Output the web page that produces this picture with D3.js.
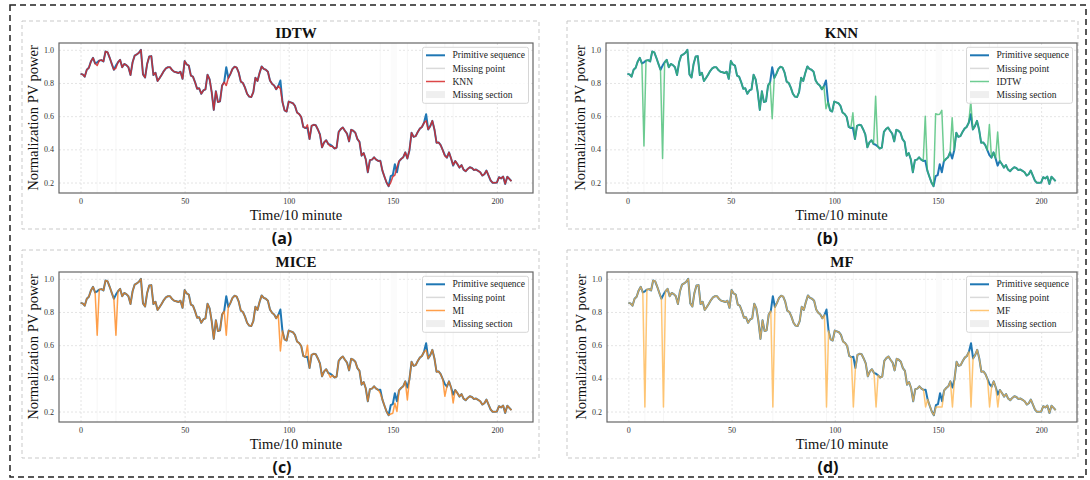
<!DOCTYPE html>
<html>
<head>
<meta charset="utf-8">
<script src="https://cdn.jsdelivr.net/npm/d3@7"></script>
<style>
  body { margin: 0; background: #fff; }
  svg { display: block; }
</style>
</head>
<body>
<svg id="chart" width="1090" height="480"></svg>
<script>
// Primitive (ground truth) PV sequence, one value per 10-minute step (0..207)
var primitive = [
  0.855, 0.852, 0.838, 0.880, 0.892, 0.930, 0.952, 0.918, 0.925, 0.935,
  0.938, 0.930, 0.990, 0.985, 0.952, 0.915, 0.880, 0.905, 0.925, 0.940,
  0.895, 0.915, 0.908, 0.895, 0.848, 0.925, 0.965, 0.972, 0.982, 1.000,
  0.852, 0.833, 0.915, 0.960, 0.962, 0.848, 0.862, 0.812, 0.830, 0.850,
  0.872, 0.888, 0.895, 0.895, 0.878, 0.868, 0.865, 0.860, 0.868, 0.825,
  0.932, 0.912, 0.905, 0.845, 0.838, 0.805, 0.765, 0.768, 0.735, 0.755,
  0.762, 0.850, 0.822, 0.745, 0.638, 0.750, 0.685, 0.690, 0.785, 0.805,
  0.895, 0.830, 0.855, 0.885, 0.898, 0.893, 0.862, 0.808, 0.800, 0.772,
  0.735, 0.718, 0.715, 0.745, 0.832, 0.812, 0.860, 0.900, 0.885, 0.880,
  0.868, 0.815, 0.795, 0.785, 0.762, 0.782, 0.815, 0.685, 0.635, 0.628,
  0.688, 0.683, 0.678, 0.662, 0.622, 0.613, 0.595, 0.535, 0.528, 0.530,
  0.462, 0.542, 0.548, 0.545, 0.520, 0.490, 0.412, 0.442, 0.455, 0.432,
  0.428, 0.418, 0.405, 0.410, 0.505, 0.522, 0.532, 0.512, 0.495, 0.448,
  0.518, 0.512, 0.500, 0.462, 0.445, 0.362, 0.378, 0.340, 0.262, 0.335,
  0.338, 0.352, 0.338, 0.330, 0.332, 0.272, 0.235, 0.200, 0.178, 0.238,
  0.245, 0.310, 0.262, 0.328, 0.342, 0.352, 0.382, 0.345, 0.395, 0.500,
  0.475, 0.480, 0.505, 0.525, 0.535, 0.560, 0.612, 0.520, 0.540, 0.572,
  0.520, 0.440, 0.442, 0.425, 0.395, 0.365, 0.350, 0.382, 0.345, 0.302,
  0.330, 0.312, 0.290, 0.305, 0.278, 0.268, 0.282, 0.292, 0.288, 0.275,
  0.278, 0.270, 0.262, 0.242, 0.250, 0.272, 0.242, 0.212, 0.198, 0.198,
  0.200, 0.232, 0.225, 0.236, 0.192, 0.235, 0.222, 0.208
];

// Positions that were removed and imputed
var missingPoints = [8, 17, 70, 96, 109, 120, 144, 157, 166, 175, 179];
var missingSection = [149, 152];
var missingIdx = [8, 17, 70, 96, 109, 120, 144, 149, 150, 151, 152, 157, 166, 175, 179];

// Imputed values at missingIdx for each method
var knnFill  = [0.905, 0.890, 0.785, 0.765, 0.548, 0.418, 0.330, 0.200, 0.235, 0.245, 0.290, 0.345, 0.572, 0.360, 0.305];
var idtwFill = [0.420, 0.345, 0.585, 0.645, 0.620, 0.720, 0.600, 0.615, 0.610, 0.612, 0.635, 0.590, 0.690, 0.550, 0.505];
var miFill   = [0.660, 0.660, 0.660, 0.565, 0.600, 0.405, 0.310, 0.185, 0.190, 0.250, 0.200, 0.270, 0.570, 0.292, 0.252];
var mfFill   = [0.228, 0.228, 0.228, 0.228, 0.228, 0.228, 0.228, 0.228, 0.228, 0.228, 0.228, 0.228, 0.228, 0.228, 0.228];

var xTicks = [0, 50, 100, 150, 200];
var yTicks = [0.2, 0.4, 0.6, 0.8, 1.0];
var legendLabels = ['Primitive sequence', 'Missing point', null, 'Missing section'];

// Panel layout (frame of each axes, dashed box and caption)
var panels = [
  { title: 'IDTW', method: 'KNN',  fill: knnFill,  color: '#d62728', alpha: 0.85, caption: '(a)', fx: 59,  fy: 43,  fw: 474, fh: 150, bx: 22,  by: 21,  bw: 517, bh: 208 },
  { title: 'KNN',  method: 'IDTW', fill: idtwFill, color: '#3dbb6e', alpha: 0.75, caption: '(b)', fx: 606, fy: 43,  fw: 471, fh: 150, bx: 567, by: 21,  bw: 511, bh: 208 },
  { title: 'MICE', method: 'MI',   fill: miFill,   color: '#ff7f0e', alpha: 0.75, caption: '(c)', fx: 59,  fy: 272, fw: 474, fh: 150, bx: 22,  by: 250, bw: 517, bh: 208 },
  { title: 'MF',   method: 'MF',   fill: mfFill,   color: '#ffb347', alpha: 0.75, caption: '(d)', fx: 607, fy: 272, fw: 470, fh: 150, bx: 567, by: 250, bw: 511, bh: 208 }
];

var SERIF = '"Liberation Serif", "Times New Roman", serif';
var BLUE = '#1f77b4';
var svg = d3.select('#chart');

// outer black dashed frame
svg.append('rect').attr('x', 10).attr('y', 5).attr('width', 1076).attr('height', 472)
  .attr('fill', 'none').attr('stroke', '#222').attr('stroke-width', 1.5).attr('stroke-dasharray', '6,4');

var n = primitive.length;
var allVals = primitive.concat(knnFill, idtwFill, miFill, mfFill);
var yMin = d3.min(allVals), yMax = d3.max(allVals);
var yPad = (yMax - yMin) * 0.05, xPad = (n - 1) * 0.05;

panels.forEach(function(p) {
  var g = svg.append('g');

  // light dashed panel box
  g.append('rect').attr('x', p.bx).attr('y', p.by).attr('width', p.bw).attr('height', p.bh)
    .attr('fill', 'none').attr('stroke', '#c9c9c9').attr('stroke-width', 1).attr('stroke-dasharray', '4,3');

  var x = d3.scaleLinear().domain([-xPad, n - 1 + xPad]).range([p.fx, p.fx + p.fw]);
  var y = d3.scaleLinear().domain([yMin - yPad, yMax + yPad]).range([p.fy + p.fh, p.fy]);

  // grid
  var gx = g.append('g').attr('transform', 'translate(0,' + (p.fy + p.fh) + ')')
    .call(d3.axisBottom(x).tickValues(xTicks).tickSize(-p.fh).tickFormat(''));
  var gy = g.append('g').attr('transform', 'translate(' + p.fx + ',0)')
    .call(d3.axisLeft(y).tickValues(yTicks).tickSize(-p.fw).tickFormat(''));
  [gx, gy].forEach(function(a) {
    a.select('.domain').remove();
    a.selectAll('line').attr('stroke', '#dedede').attr('stroke-width', 0.8).attr('stroke-dasharray', '2,2');
  });

  // missing section span and missing point markers (very faint)
  g.append('rect').attr('x', x(missingSection[0])).attr('y', p.fy)
    .attr('width', x(missingSection[1]) - x(missingSection[0])).attr('height', p.fh)
    .attr('fill', '#fbfbfb');
  g.selectAll('.mp').data(missingPoints).enter().append('line')
    .attr('x1', function(d) { return x(d); }).attr('x2', function(d) { return x(d); })
    .attr('y1', p.fy).attr('y2', p.fy + p.fh)
    .attr('stroke', '#f4f4f4').attr('stroke-width', 0.8);

  var line = d3.line().x(function(d, i) { return x(i); }).y(function(d) { return y(d); });
  var imputed = primitive.map(function(v, i) {
    var k = missingIdx.indexOf(i);
    return k >= 0 ? p.fill[k] : v;
  });

  g.append('path').datum(primitive).attr('d', line)
    .attr('fill', 'none').attr('stroke', BLUE).attr('stroke-width', 2).attr('stroke-linejoin', 'round');
  g.append('path').datum(imputed).attr('d', line)
    .attr('fill', 'none').attr('stroke', p.color).attr('stroke-opacity', p.alpha)
    .attr('stroke-width', 1.5).attr('stroke-linejoin', 'round');

  // frame
  g.append('rect').attr('x', p.fx).attr('y', p.fy).attr('width', p.fw).attr('height', p.fh)
    .attr('fill', 'none').attr('stroke', '#666').attr('stroke-width', 1.2);

  // tick labels
  var ax = g.append('g').attr('transform', 'translate(0,' + (p.fy + p.fh) + ')')
    .call(d3.axisBottom(x).tickValues(xTicks).tickSize(0).tickPadding(5).tickFormat(d3.format('d')));
  var ay = g.append('g').attr('transform', 'translate(' + p.fx + ',0)')
    .call(d3.axisLeft(y).tickValues(yTicks).tickSize(0).tickPadding(5).tickFormat(d3.format('.1f')));
  [ax, ay].forEach(function(a) {
    a.select('.domain').remove();
    a.selectAll('text').attr('font-family', SERIF).attr('font-size', '8px').attr('fill', '#333');
  });

  var cx = p.fx + p.fw / 2;
  g.append('text').attr('x', cx).attr('y', p.fy - 5).attr('text-anchor', 'middle')
    .attr('font-family', SERIF).attr('font-weight', 'bold').attr('font-size', '15px').attr('fill', '#111')
    .text(p.title);
  g.append('text').attr('x', cx).attr('y', p.fy + p.fh + 27).attr('text-anchor', 'middle')
    .attr('font-family', SERIF).attr('font-size', '14.5px').attr('fill', '#111')
    .text('Time/10 minute');
  g.append('text').attr('transform', 'translate(' + (p.fx - 21) + ',' + (p.fy + p.fh / 2) + ') rotate(-90)')
    .attr('text-anchor', 'middle')
    .attr('font-family', SERIF).attr('font-size', '14.5px').attr('fill', '#111')
    .text('Normalization PV power');
  g.append('text').attr('x', cx - 14).attr('y', p.by + p.bh + 15).attr('text-anchor', 'middle')
    .attr('font-family', '"Open Sans", "Liberation Sans", sans-serif').attr('font-weight', 'bold')
    .attr('font-size', '16px').attr('fill', '#111')
    .text(p.caption);

  // legend
  var lw = 106, lh = 56;
  var lx = p.fx + p.fw - 4.5 - lw, ly = p.fy + 4.3;
  var lg = g.append('g').attr('transform', 'translate(' + lx + ',' + ly + ')');
  lg.append('rect').attr('width', lw).attr('height', lh).attr('rx', 2)
    .attr('fill', '#fff').attr('fill-opacity', 0.85).attr('stroke', '#d6d6d6');
  legendLabels.forEach(function(lbl, i) {
    var ry = 8 + i * 13.1;
    if (i === 3) {
      lg.append('rect').attr('x', 3.5).attr('y', ry - 3.5).attr('width', 19).attr('height', 7).attr('fill', '#efefef');
    } else {
      lg.append('line').attr('x1', 3.5).attr('x2', 22.5).attr('y1', ry).attr('y2', ry)
        .attr('stroke', i === 0 ? BLUE : (i === 1 ? '#dadada' : p.color))
        .attr('stroke-opacity', i === 2 ? p.alpha : 1)
        .attr('stroke-width', i === 0 ? 2 : 1.5);
    }
    lg.append('text').attr('x', 30).attr('y', ry + 3.2)
      .attr('font-family', SERIF).attr('font-size', '9.5px').attr('fill', '#222')
      .text(lbl === null ? p.method : lbl);
  });
});
</script>
</body>
</html>
